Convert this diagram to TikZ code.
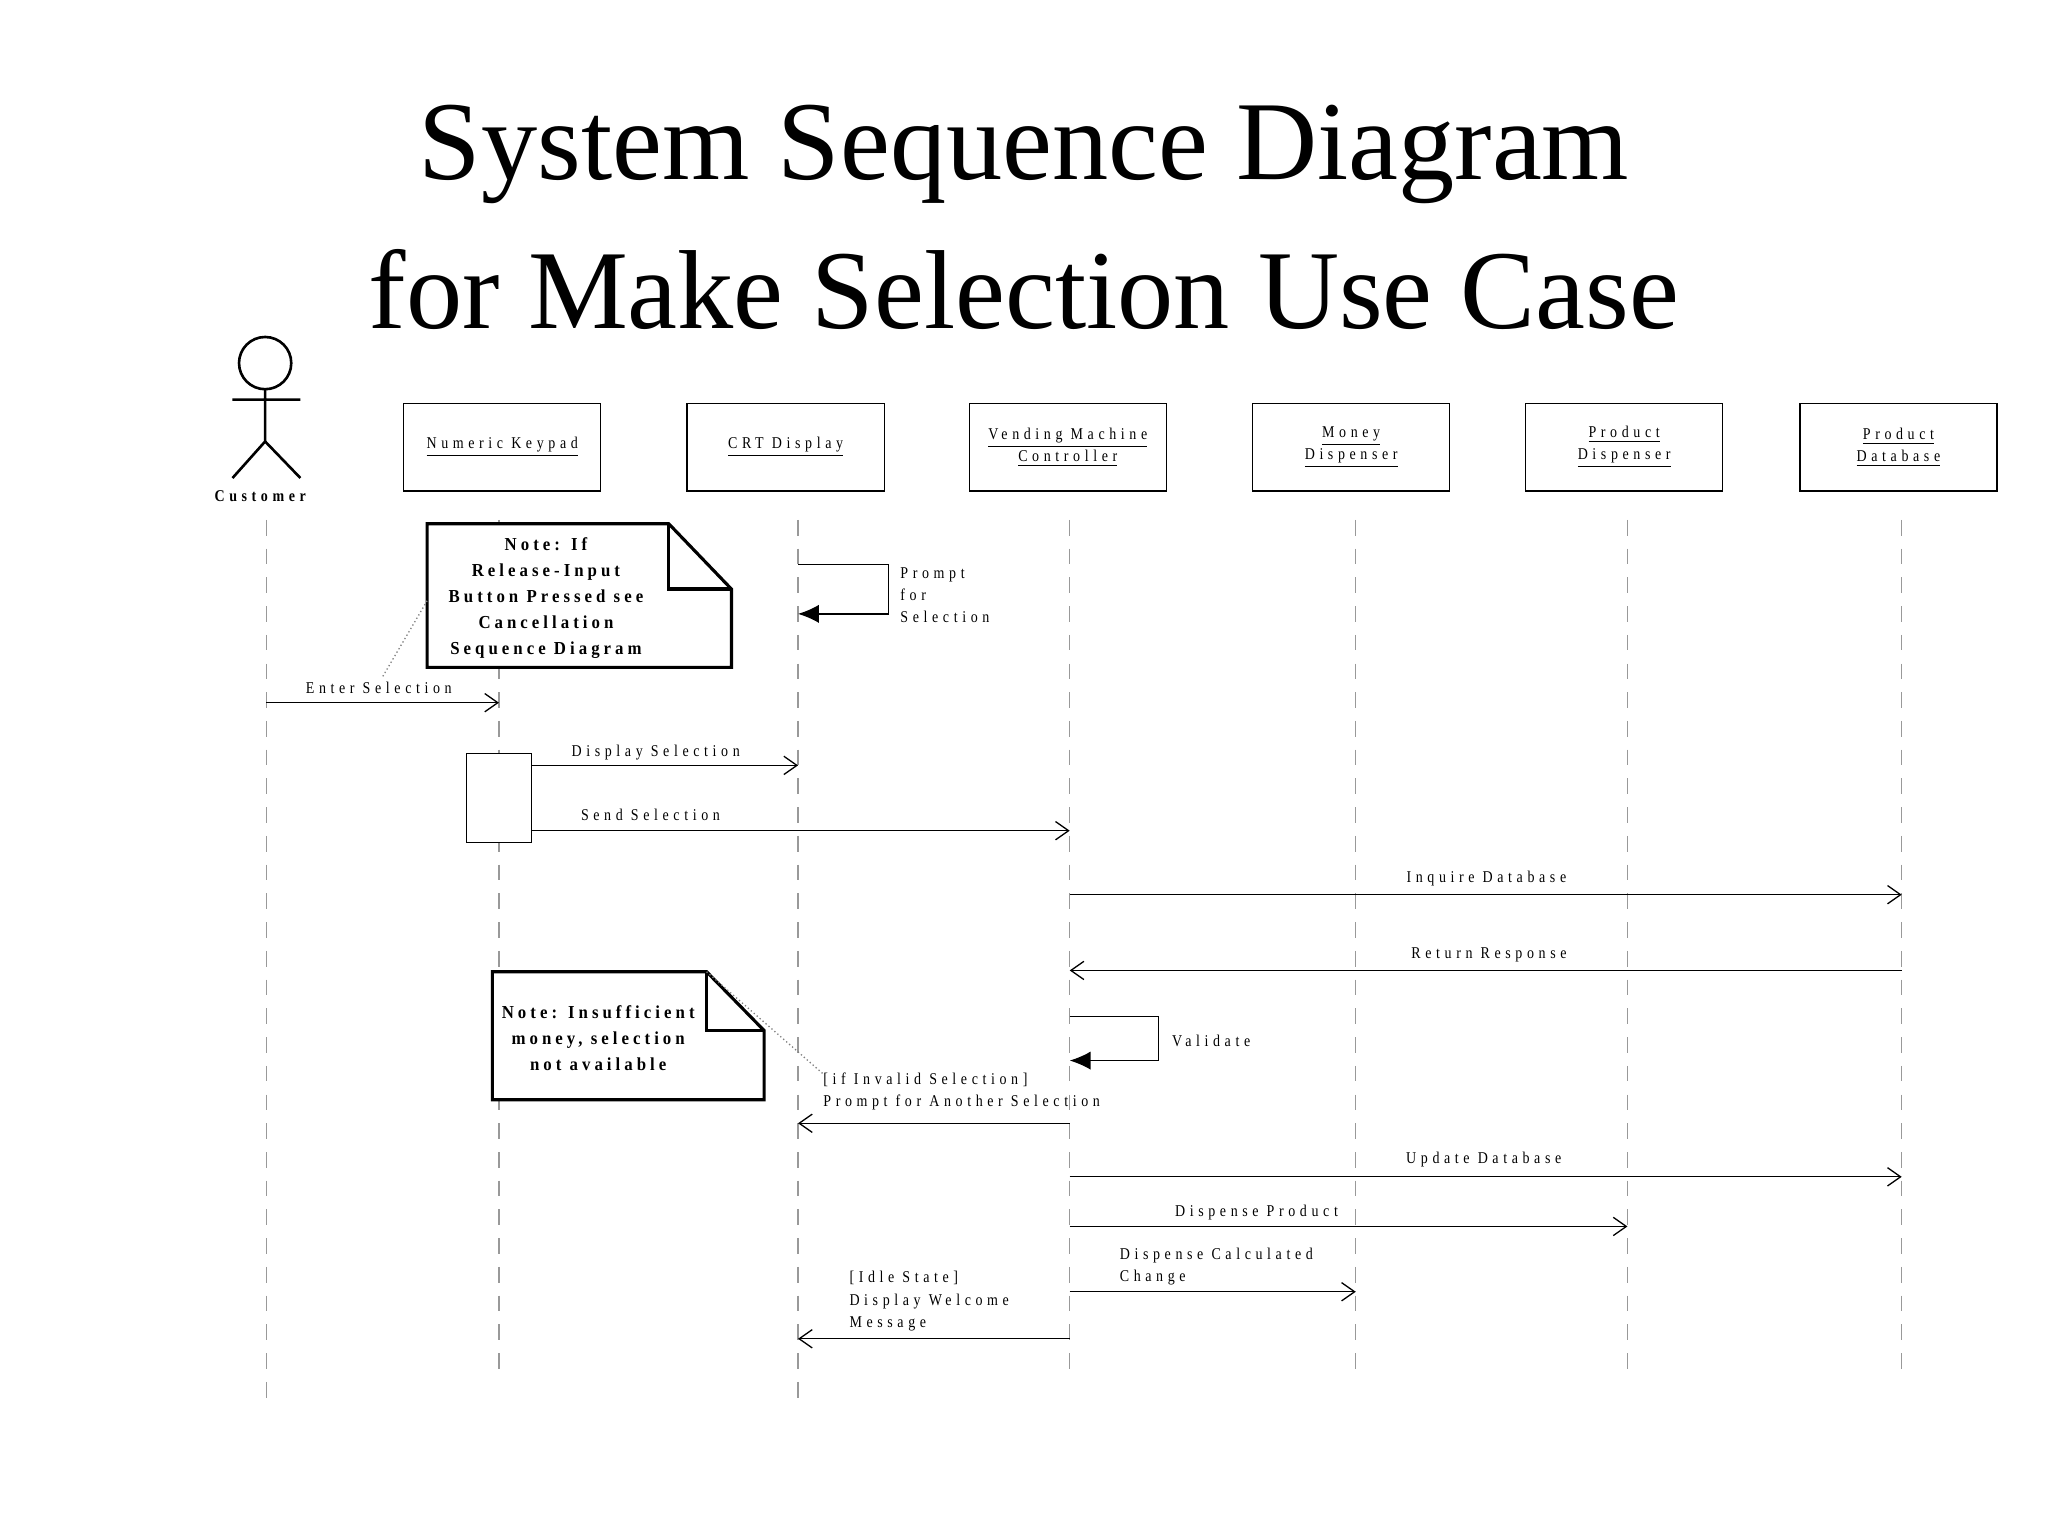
\documentclass[tikz,border=0pt]{standalone}
\usetikzlibrary{arrows.meta}
\usepackage{fontspec}
\setmainfont{Liberation Serif}
\newfontfamily\spc{Liberation Serif}[LetterSpace=28,FakeStretch=0.85]
\newfontfamily\spb{Liberation Serif}[LetterSpace=22,FakeStretch=0.92]
\begin{document}
\begin{tikzpicture}[x=0.5pt,y=-0.5pt,
  life/.style={gray!80,dashed,dash pattern=on 6pt off 5pt,line width=0.5pt},
  obj/.style={draw,line width=0.5pt,minimum width=75.5pt,minimum height=33.5pt,align=center,font=\spc\fontsize{6.3}{8.5}\selectfont},
  lbl/.style={font=\spc\fontsize{6.3}{8.5}\selectfont,inner sep=0pt},
  msg/.style={->,>={Straight Barb[length=5pt,width=7pt]},line width=0.5pt},
  selfm/.style={line width=0.5pt},
  note/.style={line width=1.2pt},
  nt/.style={font=\spb\bfseries\fontsize{7}{10}\selectfont,align=center,inner sep=0pt},
  dot/.style={gray,densely dotted,line width=0.5pt}]
\useasboundingbox (0,0) rectangle (1568,1176);
\node (t1) at (784,118) {\fontsize{43}{50}\selectfont System Sequence Diagram};
\node (t2) at (784,222) {\fontsize{43}{50}\selectfont for Make Selection Use Case};
% actor
\draw[line width=1pt] (203,278) circle (20);
\draw[line width=1pt] (203,298) -- (203,338) (178,306) -- (230,306) (178,366) -- (203,338) -- (230,366);
\node[lbl] (cust) at (201,380) {\textbf{Customer}};
% objects
\node[obj] (kp) at (384.5,342.5) {\underline{Numeric Keypad}};
\node[obj] (crt) at (601.5,342.5) {\underline{CRT Display}};
\node[obj] (vmc) at (817.5,342.5) {\underline{Vending Machine}\\\underline{Controller}};
\node[obj] (md) at (1034.5,342.5) {\underline{Money}\\\underline{Dispenser}};
\node[obj] (pd) at (1243.5,342.5) {\underline{Product}\\\underline{Dispenser}};
\node[obj] (db) at (1453.5,342.5) {\underline{Product}\\\underline{Database}};
% lifelines
\coordinate (L0) at (204,398); \coordinate (L0e) at (204,1075);
\coordinate (L1) at (382,398); \coordinate (L1e) at (382,1055);
\coordinate (L2) at (611,398); \coordinate (L2e) at (611,1075);
\coordinate (L3) at (819,398); \coordinate (L3e) at (819,1055);
\coordinate (L4) at (1038,398); \coordinate (L4e) at (1038,1055);
\coordinate (L5) at (1246,398); \coordinate (L5e) at (1246,1055);
\coordinate (L6) at (1456,398); \coordinate (L6e) at (1456,1055);
\foreach \i in {0,...,6} \draw[life] (L\i) -- (L\i e);
% note 1
\draw[note,fill=white] (327,401) -- (512,401) -- (560,451) -- (560,511) -- (327,511) -- cycle;
\draw[note] (512,401) -- (512,451) -- (560,451);
\node[nt] (n1) at (418,458) {Note: If\\Release-Input\\Button Pressed see\\Cancellation\\Sequence Diagram};
\coordinate (n1a) at (327,460); \coordinate (n1b) at (293,518);
\draw[dot] (n1a) -- (n1b);
% note 2
\draw[note,fill=white] (377,744) -- (541,744) -- (585,789) -- (585,842) -- (377,842) -- cycle;
\draw[note] (541,744) -- (541,789) -- (585,789);
\node[nt] (n2) at (458,795) {Note: Insufficient\\money, selection\\not available};
\coordinate (n2a) at (541,744); \coordinate (n2b) at (630,822);
\draw[dot] (n2a) -- (n2b);
% activation
\draw[line width=0.5pt,fill=white] (357,577) rectangle (407,645);
% self CRT
\coordinate (s1a) at (611,432); \coordinate (s1b) at (680,432);\coordinate (s1c) at (680,470);\coordinate (s1d) at (611,470);
\draw[selfm,-{Latex[length=8pt,width=7pt]}] (s1a) -- (s1b) -- (s1c) -- (s1d);
\node[lbl,anchor=north west,align=left] (p1) at (689,434) {Prompt\\for\\Selection};
% messages
\coordinate (m1a) at (204,538); \coordinate (m1b) at (382,538);
\draw[msg] (m1a) -- (m1b); \node[lbl] at (290,527) {Enter Selection};
\coordinate (m2a) at (407,586); \coordinate (m2b) at (611,586);
\draw[msg] (m2a) -- (m2b); \node[lbl] at (502,576) {Display Selection};
\coordinate (m3a) at (407,636); \coordinate (m3b) at (819,636);
\draw[msg] (m3a) -- (m3b); \node[lbl] at (498,624) {Send Selection};
\coordinate (m4a) at (819,685); \coordinate (m4b) at (1456,685);
\draw[msg] (m4a) -- (m4b); \node[lbl] at (1138,673) {Inquire Database};
\coordinate (m5a) at (1456,743); \coordinate (m5b) at (819,743);
\draw[msg] (m5a) -- (m5b); \node[lbl] at (1140,731) {Return Response};
\coordinate (s2a) at (819,778); \coordinate (s2b) at (887,778);\coordinate (s2c) at (887,812);\coordinate (s2d) at (819,812);
\draw[selfm,-{Latex[length=8pt,width=7pt]}] (s2a) -- (s2b) -- (s2c) -- (s2d);
\node[lbl,anchor=west] at (897,797) {Validate};
\coordinate (m6a) at (819,860); \coordinate (m6b) at (611,860);
\draw[msg] (m6a) -- (m6b);
\node[lbl,anchor=north west,align=left] at (630,821) {[if Invalid Selection]\\Prompt for Another Selection};
\coordinate (m7a) at (819,901); \coordinate (m7b) at (1456,901);
\draw[msg] (m7a) -- (m7b); \node[lbl] at (1136,888) {Update Database};
\coordinate (m8a) at (819,939); \coordinate (m8b) at (1246,939);
\draw[msg] (m8a) -- (m8b); \node[lbl] at (962,928) {Dispense Product};
\coordinate (m9a) at (819,989); \coordinate (m9b) at (1038,989);
\draw[msg] (m9a) -- (m9b);
\node[lbl,anchor=north west,align=left] at (857,955) {Dispense Calculated\\Change};
\coordinate (m10a) at (819,1025); \coordinate (m10b) at (611,1025);
\draw[msg] (m10a) -- (m10b);
\node[lbl,anchor=north west,align=left] at (650,973) {[Idle State]\\Display Welcome\\Message};
\end{tikzpicture}
\end{document}
